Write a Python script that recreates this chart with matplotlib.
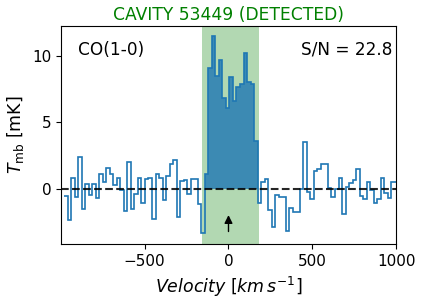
import numpy as np
import matplotlib
matplotlib.use("Agg")
import matplotlib.pyplot as plt

# ---- data ----
v_start = -980.0          # km/s, left edge of first channel
dv = 20.97                # channel width km/s
left_vals = [-0.5, -2.35, 0.8, -0.63, 2.43, -1.5, 0.35, -0.45, 0.35, -0.65, 1.1, 0.55, 1.6,
             1.1, 0.3, 0.85, -0.08, -1.65, 2.0, -1.5, -0.4, 0.8, -1.07, 0.75, 0.8, -2.25, 1.1,
             0.8, -0.83, 0.97, 1.87, 2.17, -2.08, 0.6, 0.7, -0.38, 0.75, 0.75, -1.15, -3.3]
line_vals = [1.12, 9.05, 11.47, 8.47, 9.67, 6.85, 6.1, 8.37, 6.6, 7.65, 7.85, 10.17, 8.05, 7.85, 3.6]
right_vals = [-1.07, 0.55, 0.72, -1.57, -2.88, -0.45, -0.57, -0.62, -3.12, -1.45, -1.75, -1.7,
              0.0, 3.5, -0.25, -0.78, 1.37, 1.52, 1.87, 1.87, 0.05, -0.6, 0.0, 0.8,
              -1.87, 0.12, 0.42, 0.67, 1.47, -0.52, -0.78, 0.5, -0.07, -1.03, -0.78, 0.8,
              -0.33, -0.7, 0.5, 0.5]
window = (-155, 183)
title = "CAVITY 53449 (DETECTED)"
line_name = "CO(1-0)"
snr = 22.8
xticks = [-500, 0, 500, 1000]
yticks = [0, 5, 10]

spec = np.array(left_vals + line_vals + right_vals)
edges = v_start + dv * np.arange(len(spec) + 1)
i0 = len(left_vals)
i1 = i0 + len(line_vals)

fig = plt.figure(figsize=(4.24, 3.04), dpi=100)
ax = fig.add_axes([0.1439, 0.1964, 0.9347 - 0.1439, 0.9155 - 0.1964])

ax.axvspan(window[0], window[1], color='green', alpha=0.3, lw=0)
ax.stairs(spec[i0:i1], edges[i0:i1 + 1], baseline=0, fill=True, color='#1f77b4', alpha=0.8)
ax.stairs(spec, edges, baseline=None, color='#1f77b4', lw=1.2)
ax.axhline(0, color='k', ls='--', lw=1.5, alpha=0.85)
ax.annotate('', xy=(0, -1.75), xytext=(0, -3.4),
            arrowprops=dict(arrowstyle='-|>', color='k', lw=1.0, mutation_scale=12))

ax.set_xlim(-998, 1000)
ax.set_ylim(-4.15, 12.25)
ax.set_xticks(xticks)
ax.set_yticks(yticks)
ax.tick_params(labelsize=11)

ax.text(0.052, 0.89, line_name, transform=ax.transAxes, fontsize=12.2, va='center', ha='left')
ax.text(0.987, 0.89, f"S/N = {snr}", transform=ax.transAxes, fontsize=12.2, va='center', ha='right')
ax.set_title(title, color='green', fontsize=12.3, pad=4)
ax.set_xlabel(r'$Velocity\ [km\,s^{-1}]$', fontsize=12.5)
ax.set_ylabel(r'$T_{\rm mb}$ [mK]', fontsize=12.5)

fig.savefig('out.png', dpi=100)
